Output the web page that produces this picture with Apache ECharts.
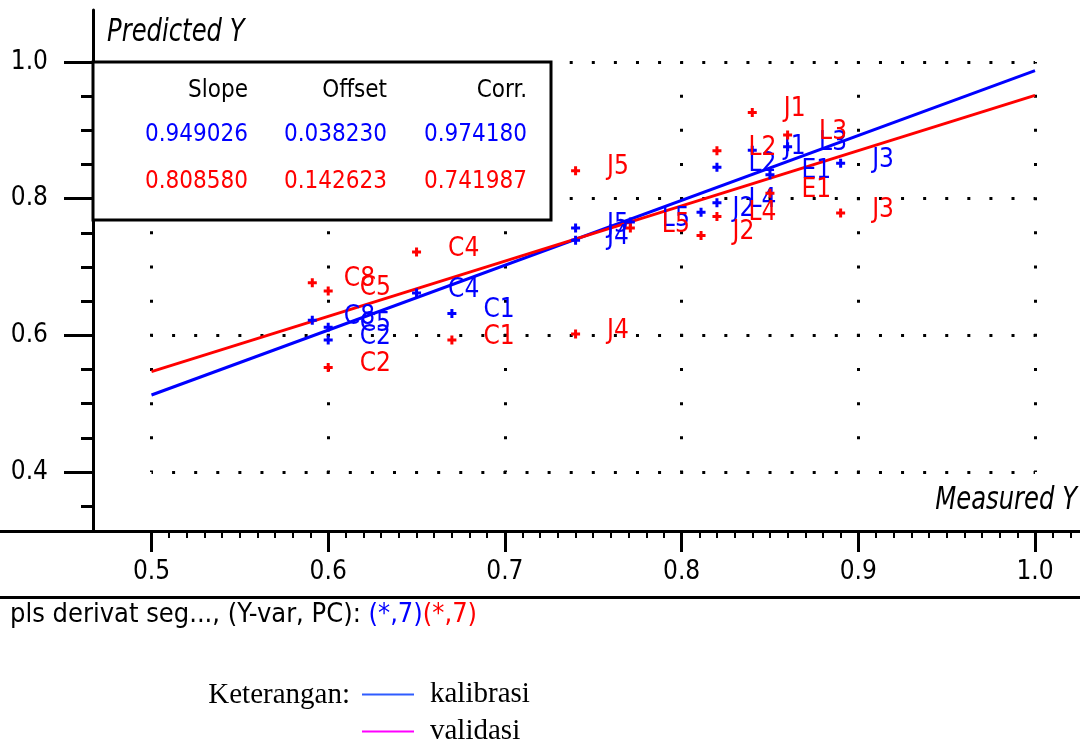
<!DOCTYPE html>
<html>
<head>
<meta charset="utf-8">
<script src="https://cdn.jsdelivr.net/npm/echarts@6/dist/echarts.min.js"></script>
<style>html,body{margin:0;padding:0;background:#fff}#c{width:1080px;height:740px}</style>
</head>
<body>
<div id="c"></div>
<script>
// ---- data ----
const samples        = ['C8','C5','C2','C4','C1','J5','J4','L5','J2','L2','L4','J1','E1','L3','J3'];
const measuredY      = [0.591,0.600,0.600,0.650,0.670,0.740,0.740,0.771,0.811,0.820,0.820,0.840,0.850,0.860,0.890];
const calibPredicted = [0.622,0.612,0.593,0.662,0.632,0.757,0.739,0.766,0.780,0.846,0.794,0.871,0.835,0.876,0.852];
const validPredicted = [0.677,0.665,0.553,0.722,0.593,0.841,0.602,0.757,0.746,0.870,0.774,0.926,0.808,0.893,0.779];
const calibLine      = [[0.5,0.5127],[1.0,0.9873]];
const validLine      = [[0.5,0.5469],[1.0,0.9512]];
const xTickLabels    = [0.5,0.6,0.7,0.8,0.9,1.0];
const yTickLabels    = [0.4,0.6,0.8,1.0];
const statHeaders    = ['Slope','Offset','Corr.'];
const calibStats     = ['0.949026','0.038230','0.974180'];
const validStats     = ['0.808580','0.142623','0.741987'];
const footerText     = 'pls derivat seg..., (Y-var, PC): ';
const pcLabel        = '(*,7)';
const legendNames    = ['kalibrasi','validasi'];
const legendTitle    = 'Keterangan:';
const yAxisTitle     = 'Predicted Y';
const xAxisTitle     = 'Measured Y';

// ---- minor tick positions ----
const xMinor = [];
for (let i = 50; i <= 102; i++) { if (i % 10 !== 0) xMinor.push(i / 100); }
const yMinor = [];
for (let i = 35; i <= 100; i += 5) { if (i % 20 !== 0) yMinor.push(i / 100); }

const NARROW = '"DejaVu Sans Condensed", "Liberation Sans Narrow", sans-serif';
const SERIF = '"Liberation Serif", "DejaVu Serif", serif';
const BLUE = '#0000ff', RED = '#ff0000';
const PLUS = 'path://M3 0H6V3H9V6H6V9H3V6H0V3H3Z';

const chart = echarts.init(document.getElementById('c'), null, {renderer: 'canvas'});

const Y_MIN = 0.31365, Y_MAX = 1.0761;
const Y_OFF = -118.2;

function pts(vals) {
  return samples.map((s, i) => ({name: s, value: [measuredY[i], vals[i]]}));
}
function labelCfg(color) {
  return {show: true, formatter: '{b}', position: 'right', distance: 27, offset: [0, -3],
          color: color, fontFamily: NARROW, fontSize: 26};
}

const statCols = [248, 387, 527];
const graphics = [
  {type: 'rect', z: 100, shape: {x: 93, y: 62, width: 458, height: 158},
   style: {fill: '#fff', stroke: '#000', lineWidth: 3}},
  {type: 'text', z: 101, x: 107, y: 33, scaleY: 1.2,
   style: {text: yAxisTitle, font: 'italic 27px ' + NARROW, fill: '#000', align: 'left', verticalAlign: 'middle'}},
  {type: 'text', z: 101, x: 1077, y: 501, scaleY: 1.2,
   style: {text: xAxisTitle, font: 'italic 27px ' + NARROW, fill: '#000', align: 'right', verticalAlign: 'middle'}},
  {type: 'text', z: 101, x: 350, y: 695,
   style: {text: legendTitle, font: '29px ' + SERIF, fill: '#000', align: 'right', verticalAlign: 'middle'}}
];
[[statHeaders, '#000', 91], [calibStats, BLUE, 135], [validStats, RED, 182]].forEach(([row, col, y]) => {
  row.forEach((t, j) => {
    graphics.push({type: 'text', z: 101, x: statCols[j], y: y,
      style: {text: t, font: '24px ' + NARROW, fill: col, align: 'right', verticalAlign: 'middle'}});
  });
});

function legendCfg(idx, top, color) {
  return {
    orient: 'vertical', left: 362, top: top, padding: 0, itemWidth: 52, itemHeight: 2,
    icon: 'rect', selectedMode: false,
    textStyle: {fontFamily: SERIF, fontSize: 29, color: '#000', padding: [0, 0, 0, 11]},
    data: [{name: legendNames[idx], itemStyle: {color: color}, lineStyle: {color: color}}]
  };
}

const option = {
  animation: false,
  backgroundColor: '#fff',
  title: {
    text: footerText + '{b|' + pcLabel + '}{r|' + pcLabel + '}',
    left: 10, top: 601, padding: 0,
    textStyle: {fontFamily: NARROW, fontSize: 27, fontWeight: 'normal', color: '#000', lineHeight: 27,
      rich: {
        b: {color: BLUE, fontFamily: NARROW, fontSize: 27, lineHeight: 27},
        r: {color: RED, fontFamily: NARROW, fontSize: 27, lineHeight: 27}
      }}
  },
  legend: [
    legendCfg(0, 680, '#2f5cff'),
    legendCfg(1, 717, '#ff00ff')
  ],
  grid: [
    {left: -25.2, right: -131.7, top: 10, bottom: 209, containLabel: false, outerBoundsMode: 'none'},
    {left: 151.5, right: 45, top: 62, bottom: 268, containLabel: false, outerBoundsMode: 'none'}
  ],
  xAxis: [
    {gridIndex: 0, type: 'value', min: 0.4, max: 1.1, position: 'bottom',
     axisLine: {show: true, onZero: false, lineStyle: {color: '#000', width: 3}},
     axisTick: {show: true, customValues: xTickLabels, length: 21, lineStyle: {color: '#000', width: 3}},
     axisLabel: {show: true, customValues: xTickLabels, formatter: v => v.toFixed(1), margin: 28,
                 color: '#000', fontFamily: NARROW, fontSize: 26},
     splitLine: {show: false}},
    {gridIndex: 0, type: 'value', min: 0.4, max: 1.1, position: 'bottom',
     axisLine: {show: false},
     axisTick: {show: true, customValues: xMinor, length: 7, lineStyle: {color: '#000', width: 2}},
     axisLabel: {show: false}, splitLine: {show: false}},
    {gridIndex: 0, type: 'value', min: 0.4, max: 1.1, position: 'bottom', offset: 66,
     axisLine: {show: true, onZero: false, lineStyle: {color: '#000', width: 3}},
     axisTick: {show: false}, axisLabel: {show: false}, splitLine: {show: false}},
    {gridIndex: 1, type: 'value', min: 0.5, max: 1.0, interval: 0.1,
     axisLine: {show: false}, axisTick: {show: false}, axisLabel: {show: false},
     splitLine: {show: true, showMinLine: true, showMaxLine: true,
                 lineStyle: {color: '#000', width: 3, type: [3, 31.165], dashOffset: 1.5}}}
  ],
  yAxis: [
    {gridIndex: 0, type: 'value', min: Y_MIN, max: Y_MAX, position: 'left', offset: Y_OFF,
     axisLine: {show: true, onZero: false, lineStyle: {color: '#000', width: 3}},
     axisTick: {show: true, customValues: yTickLabels, length: 29, lineStyle: {color: '#000', width: 3}},
     axisLabel: {show: true, customValues: yTickLabels, formatter: v => v.toFixed(1), margin: 45,
                 color: '#000', fontFamily: NARROW, fontSize: 26},
     splitLine: {show: false}},
    {gridIndex: 0, type: 'value', min: Y_MIN, max: Y_MAX, position: 'left', offset: Y_OFF,
     axisLine: {show: false},
     axisTick: {show: true, customValues: yMinor, length: 12, lineStyle: {color: '#000', width: 3}},
     axisLabel: {show: false}, splitLine: {show: false}},
    {gridIndex: 1, type: 'value', min: 0.4, max: 1.0, interval: 0.2,
     axisLine: {show: false}, axisTick: {show: false}, axisLabel: {show: false},
     splitLine: {show: true, showMinLine: true, showMaxLine: true,
                 lineStyle: {color: '#000', width: 3, type: [3, 19.09], dashOffset: 1.5}}}
  ],
  series: [
    {name: legendNames[0], type: 'line', xAxisIndex: 0, yAxisIndex: 0, data: calibLine,
     symbol: 'none', lineStyle: {color: BLUE, width: 3}, itemStyle: {color: BLUE}, z: 2, silent: true},
    {name: legendNames[1], type: 'line', xAxisIndex: 0, yAxisIndex: 0, data: validLine,
     symbol: 'none', lineStyle: {color: RED, width: 3}, itemStyle: {color: RED}, z: 2, silent: true},
    {name: legendNames[0], type: 'scatter', xAxisIndex: 0, yAxisIndex: 0, data: pts(calibPredicted),
     symbol: PLUS, symbolSize: 9, itemStyle: {color: BLUE, opacity: 1}, label: labelCfg(BLUE), z: 3, silent: true},
    {name: legendNames[1], type: 'scatter', xAxisIndex: 0, yAxisIndex: 0, data: pts(validPredicted),
     symbol: PLUS, symbolSize: 9, itemStyle: {color: RED, opacity: 1}, label: labelCfg(RED), z: 4, silent: true}
  ],
  graphic: graphics
};
chart.setOption(option);
</script>
</body>
</html>
